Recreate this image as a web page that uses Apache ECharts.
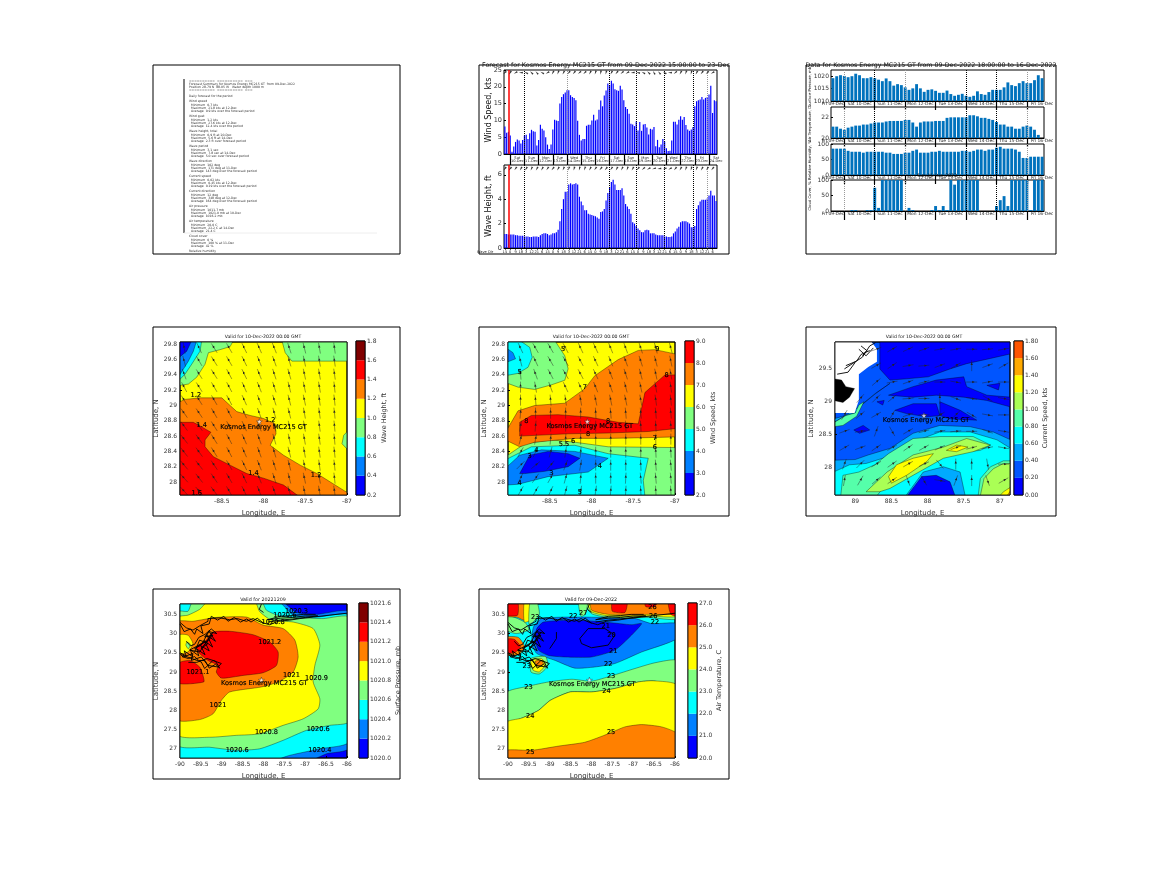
<!DOCTYPE html>
<html>
<head>
<meta charset="utf-8">
<script src="https://cdn.jsdelivr.net/npm/echarts@6/dist/echarts.min.js"></script>
<style>
  html, body { margin: 0; padding: 0; background: #fff; }
  #chart { width: 1167px; height: 875px; }
</style>
</head>
<body>
<div id="chart"></div>
<script>
const FONT = '"DejaVu Sans"';

// ---- time series panels ----
const dayLabels = ['Fri 09-Dec', 'Sat 10-Dec', 'Sun 11-Dec', 'Mon 12-Dec', 'Tue 13-Dec', 'Wed 14-Dec', 'Thu 15-Dec', 'Fri 16-Dec',
  'Sat 17-Dec', 'Sun 18-Dec', 'Mon 19-Dec', 'Tue 20-Dec', 'Wed 21-Dec', 'Thu 22-Dec', 'Fri 23-Dec', 'Sat 24-Dec'];
const hourLabels = ['15', '18', '21', '0', '3', '6', '9', '12'];

const windSpeed = [8.2, 6.3, 6.6, 5.5, 0.7, 2.2, 3.6, 4.3, 4, 3.1, 4.2, 5.5, 5.7, 4.5, 6.2, 7.2, 6.8, 6.6, 2.5, 4.2,
  8.7, 7.5, 7, 5, 2.8, 1.5, 2.8, 7.3, 10.2, 10, 9.8, 15, 17, 17.8, 18.3, 19, 19, 17.5, 17, 16.7,
  16, 9.9, 5.7, 4, 4.5, 4.5, 8.4, 8.7, 8.7, 10, 11.7, 10, 10.3, 13.2, 15.9, 14.2, 17.4, 18.9, 21, 20.5,
  21.8, 21, 19.3, 19, 18.8, 20.3, 19.2, 16, 14, 13.4, 12, 9, 8.8, 8.3, 9.7, 7, 9.5, 6.9, 8.8, 8.9,
  7.9, 5.8, 7.5, 7.3, 8, 2.3, 4.2, 2, 2.8, 4.5, 3.7, 1.7, 0.9, 1, 4, 9.6, 9.6, 8.8, 10.2, 11.2,
  10.2, 11, 8.6, 7.3, 6.9, 7.3, 8, 14.2, 15.7, 16, 16.2, 17, 16.2, 16.7, 17, 17.7, 20.3, 12.2, 16, 15.7];
const waveHeight = [1.15, 1.15, 1.1, 1.1, 1.1, 1.1, 1.05, 1.05, 1, 1, 1, 0.95, 0.95, 0.95, 0.9, 0.9, 0.95, 0.95, 0.95, 0.9,
  1.05, 1.15, 1.2, 1.2, 1.15, 1.05, 1.1, 1.2, 1.2, 1.3, 1.5, 2.2, 3.2, 4, 4.6, 4.6, 5.2, 5.3, 5.2, 5.25,
  5.3, 5.2, 4.2, 3.8, 3.5, 3.1, 3.1, 2.8, 2.75, 2.7, 2.65, 2.6, 2.5, 2.4, 2.95, 3, 3.2, 3.9, 4.5, 5,
  5.4, 5.6, 5.2, 4.75, 4.75, 4.75, 4.9, 4.3, 3.6, 3.4, 3.2, 2.8, 2.1, 2, 1.8, 1.6, 1.45, 1.3, 1.3, 1.45,
  1.5, 1.45, 1.2, 1.2, 1.2, 1.1, 1.05, 1.05, 1.05, 1.05, 0.95, 0.95, 0.9, 0.9, 0.95, 1.2, 1.35, 1.6, 1.75, 2.1,
  2.2, 2.2, 2.2, 2.1, 2, 1.7, 1.7, 1.8, 3.2, 3.5, 3.8, 3.95, 3.95, 3.95, 4.05, 4.3, 4.7, 4.3, 4.3, 3.85];
const windDirMarks = [135, 150, 120, 90, 60, 45, 40, 60, 120, 150, 160, 150, 140, 140, 130, 135, 150, 160, 170, 165,
  150, 140, 130, 120, 100, 80, 60, 45, 30, 40, 60, 90, 130, 150, 160, 165, 150, 140, 130, 120];
const waveDirMarks = [140, 140, 145, 150, 150, 155, 150, 150, 145, 140, 150, 155, 160, 165, 165, 160, 150, 145, 140, 140,
  145, 150, 155, 160, 150, 140, 130, 120, 110, 100, 110, 120, 140, 150, 160, 165, 160, 150, 145, 140];
const windDotted = [11, 59, 74, 90, 106];
const windDottedLight = [35, 114];
const nowIndex = 2;

const surfacePressure = [1019.2, 1020, 1020.4, 1020.1, 1019.6, 1020, 1021, 1020.4, 1019.2, 1019.2, 1019.6, 1019.2, 1018.6, 1018, 1019.1, 1018,
  1016.2, 1016.8, 1016.4, 1015.5, 1014.5, 1015.1, 1016.8, 1015.1, 1013.7, 1014.5, 1014.7, 1014.1, 1013.3, 1013.3, 1014.2, 1012.8,
  1012.1, 1012.5, 1012.9, 1012.1, 1011.7, 1012.1, 1013.9, 1012.8, 1012.5, 1013.6, 1014.5, 1014.5, 1014.5, 1015.5, 1017.5, 1016.4,
  1016, 1017.2, 1018, 1017.2, 1017.2, 1018.4, 1020.4, 1019.2];
const airTemperature = [21.1, 21.1, 20.9, 20.8, 21, 21.1, 21.2, 21.2, 21.3, 21.3, 21.4, 21.5, 21.5, 21.5, 21.6, 21.65,
  21.65, 21.65, 21.65, 21.75, 21.75, 21.5, 21.1, 21.5, 21.6, 21.6, 21.6, 21.65, 21.65, 21.65, 21.95, 22,
  22, 22, 22, 22, 22.2, 22.2, 22.1, 21.95, 21.95, 21.85, 21.75, 21.55, 21.3, 21.3, 21.1, 21.1,
  20.9, 20.9, 21.1, 21.2, 21.1, 20.8, 20.3, 20];
const relativeHumidity = [85, 85, 85, 85, 78, 75, 75, 75, 72, 75, 75, 75, 75, 75, 72, 72,
  68, 68, 68, 72, 72, 78, 82, 72, 72, 72, 75, 75, 78, 75, 75, 75,
  75, 75, 78, 78, 75, 78, 82, 82, 78, 82, 82, 88, 91, 85, 85, 85,
  82, 75, 55, 55, 59, 59, 59, 59];
const cloudCover = [0, 0, 0, 0, 0, 3, 3, 0, 0, 3, 3, 75, 10, 100, 100, 100,
  100, 100, 100, 0, 10, 3, 0, 0, 0, 0, 3, 16, 3, 16, 3, 100,
  85, 100, 100, 100, 100, 100, 100, 0, 0, 0, 0, 16, 35, 48, 16, 100,
  100, 100, 100, 100, 3, 100, 100, 100];
const metDotted = [11, 35, 43];
const metDottedLight = [3, 19, 51];

// ---- text panel ----
const summaryLines = [
  '==========  ==========  ===',
  'Forecast Summary for Kosmos Energy MC215 GT  from 09-Dec-2022',
  'Position 28.79 N  88.05 W   Water depth 1000 m',
  '==========  ==========  ===',
  '', 'Daily forecast for the period', '',
  'Wind speed', '  Minimum  0.7 kts', '  Maximum  21.8 kts at 12-Dec', '  Average  9.9 kts over the forecast period', '',
  'Wind gust', '  Minimum  1.2 kts', '  Maximum  27.6 kts at 12-Dec', '  Average  12.4 kts over the period', '',
  'Wave height, total', '  Minimum  0.9 ft at 20-Dec', '  Maximum  5.6 ft at 14-Dec', '  Average  2.3 ft over forecast period', '',
  'Wave period', '  Minimum  3.1 sec', '  Maximum  7.8 sec at 14-Dec', '  Average  5.0 sec over forecast period', '',
  'Wave direction', '  Minimum  102 deg', '  Maximum  171 deg at 11-Dec', '  Average  143 deg over the forecast period', '',
  'Current speed', '  Minimum  0.02 kts', '  Maximum  0.45 kts at 12-Dec', '  Average  0.19 kts over the forecast period', '',
  'Current direction', '  Minimum  12 deg', '  Maximum  348 deg at 12-Dec', '  Average  164 deg over the forecast period', '',
  'Air pressure', '  Minimum  1011.7 mb', '  Maximum  1021.0 mb at 10-Dec', '  Average  1016.2 mb', '',
  'Air temperature', '  Minimum  20.0 C', '  Maximum  22.2 C at 14-Dec', '  Average  21.4 C', '',
  'Cloud cover', '  Minimum  0 %', '  Maximum  100 % at 11-Dec', '  Average  42 %', '',
  'Relative humidity'
];

// ---- colour bars ----
const jet8 = ['#0000ff', '#0080ff', '#00ffff', '#80ff80', '#ffff00', '#ff8000', '#ff0000', '#800000'];
const jet7 = ['#0000ff', '#0080ff', '#00ffff', '#80ff80', '#ffff00', '#ff8000', '#ff0000'];
const jet9 = ['#0000ff', '#0055ff', '#00aaff', '#00ffff', '#55ffaa', '#aaff55', '#ffff00', '#ffaa00', '#ff5500'];
const waveLevels = [0.2, 0.4, 0.6, 0.8, 1, 1.2, 1.4, 1.6, 1.8];
const windLevels = [2, 3, 4, 5, 6, 7, 8, 9];
const currentLevels = [0, 0.2, 0.4, 0.6, 0.8, 1, 1.2, 1.4, 1.6, 1.8];
const pressureLevels = [1020, 1020.2, 1020.4, 1020.6, 1020.8, 1021, 1021.2, 1021.4, 1021.6];
const temperatureLevels = [20, 21, 22, 23, 24, 25, 26, 27];

// ---- contour regions, [colour, [[lon, lat], ...]] in painting order ----
const site = [-88.05, 28.79];

const wavePatches = [
  ['#80ff80', [[-87.78, 29.85], [-87.74, 29.69], [-87.66, 29.58], [-86.98, 29.58], [-86.98, 29.85]]],
  ['#80ff80', [[-86.98, 28.68], [-87.04, 28.61], [-87.06, 28.5], [-86.98, 28.41]]],
  ['#80ff80', [[-89.02, 29.85], [-88.36, 29.85], [-88.4, 29.77], [-88.52, 29.73], [-88.66, 29.69], [-88.7, 29.54], [-88.8, 29.37], [-88.9, 29.28], [-89.02, 29.26]]],
  ['#00ffff', [[-89.02, 29.85], [-88.74, 29.85], [-88.76, 29.71], [-88.86, 29.54], [-88.94, 29.41], [-89.02, 29.32]]],
  ['#0080ff', [[-89.02, 29.85], [-88.8, 29.85], [-88.84, 29.71], [-88.9, 29.58], [-89.02, 29.37]]],
  ['#0000ff', [[-89.02, 29.85], [-88.86, 29.85], [-88.92, 29.71], [-89.02, 29.62]]],
  ['#ff8000', [[-89.02, 29.04], [-88.94, 29.08], [-88.76, 29.1], [-88.5, 29.1], [-88.4, 29], [-88.32, 28.92], [-88.16, 28.87], [-88, 28.83], [-87.86, 28.76], [-87.85, 28.63], [-87.92, 28.48], [-87.76, 28.35], [-87.56, 28.22], [-87.36, 28.11], [-87.2, 28], [-86.98, 27.85], [-86.98, 27.8], [-89.02, 27.8]]],
  ['#ff0000', [[-89.02, 28.78], [-88.84, 28.78], [-88.74, 28.72], [-88.63, 28.65], [-88.7, 28.55], [-88.7, 28.46], [-88.6, 28.33], [-88.4, 28.22], [-88.2, 28.11], [-88, 28.05], [-87.76, 27.96], [-87.56, 27.8], [-89.02, 27.8]]]
];
const waveLabels = [[-88.81, 29.14, '1.2'], [-88.74, 28.74, '1.4'], [-87.92, 28.81, '1.2'], [-88.12, 28.11, '1.4'], [-87.37, 28.09, '1.2'], [-88.8, 27.85, '1.6'], [-88, 28.72, 'Kosmos Energy MC215 GT']];
const waveArrowLons = [-88.95, -88.77, -88.59, -88.41, -88.23, -88.05, -87.87, -87.69, -87.51, -87.33, -87.15];
const waveArrowLats = [29.75, 29.58, 29.41, 29.24, 29.07, 28.9, 28.73, 28.56, 28.39, 28.22, 28.05, 27.88];
const waveArrowAngles = [
  [-10, -25, -32, -30, -26, -24, -22, -18, -14, -10, -8],
  [-15, -30, -32, -30, -26, -22, -20, -16, -12, -10, -8],
  [-20, -32, -32, -28, -26, -22, -18, -16, -12, -10, -8],
  [-28, -32, -30, -28, -24, -22, -18, -14, -12, -10, -6],
  [-32, -32, -30, -28, -24, -20, -18, -14, -12, -8, -6],
  [-35, -34, -30, -28, -24, -20, -16, -14, -10, -8, -6],
  [-36, -34, -32, -28, -24, -20, -16, -12, -10, -8, -5],
  [-38, -36, -32, -28, -24, -20, -16, -12, -10, -8, -5],
  [-38, -36, -32, -28, -24, -20, -16, -14, -10, -8, -6],
  [-40, -38, -34, -30, -26, -22, -18, -14, -12, -8, -6],
  [-42, -38, -34, -30, -26, -22, -18, -14, -12, -10, -6],
  [-42, -40, -36, -30, -26, -22, -20, -16, -12, -10, -8]
];

const windPatches = [
  ['#80ff80', [[-89.03, 29.85], [-88.44, 29.85], [-88.32, 29.65], [-88.28, 29.48], [-88.32, 29.33], [-88.48, 29.27], [-88.68, 29.21], [-88.88, 29.24], [-89.03, 29.3]]],
  ['#00ffff', [[-89.03, 29.85], [-88.86, 29.85], [-88.74, 29.76], [-88.71, 29.63], [-88.76, 29.5], [-88.88, 29.42], [-89.03, 29.39]]],
  ['#0080ff', [[-89.03, 29.76], [-88.94, 29.69], [-88.91, 29.61], [-89.03, 29.56]]],
  ['#80ff80', [[-89.03, 28.33], [-88.8, 28.5], [-88.48, 28.55], [-88.2, 28.52], [-87.8, 28.46], [-86.98, 28.45], [-86.98, 27.81], [-89.03, 27.81]]],
  ['#00ffff', [[-89.03, 28.29], [-88.72, 28.46], [-88.2, 28.48], [-87.8, 28.37], [-87.32, 28.31], [-87.38, 28.02], [-87.36, 27.81], [-89.03, 27.81]]],
  ['#0080ff', [[-89.03, 28.18], [-88.86, 28.35], [-88.6, 28.42], [-88.2, 28.4], [-87.8, 28.31], [-88.04, 28.13], [-88.52, 28.07], [-88.88, 27.97], [-89.03, 27.96]]],
  ['#0000ff', [[-88.86, 28.11], [-88.74, 28.35], [-88.52, 28.4], [-88.28, 28.37], [-88.14, 28.31], [-88.28, 28.2], [-88.56, 28.14], [-88.8, 28.11]]],
  ['#ff8000', [[-89.03, 28.65], [-88.88, 28.93], [-88.68, 29], [-88.32, 29.03], [-88.08, 29.22], [-87.96, 29.39], [-87.68, 29.6], [-87.44, 29.72], [-87.24, 29.73], [-86.98, 29.67], [-86.98, 28.59], [-87.32, 28.58], [-87.8, 28.57], [-88.2, 28.57], [-88.68, 28.52], [-88.86, 28.46], [-89.03, 28.55]]],
  ['#ff0000', [[-88.86, 28.6], [-88.86, 28.78], [-88.72, 28.87], [-88.4, 28.88], [-88.04, 28.85], [-87.68, 28.78], [-87.44, 28.76], [-87.36, 29.17], [-87.12, 29.4], [-86.98, 29.4], [-86.98, 28.7], [-87.32, 28.66], [-87.8, 28.64], [-88.28, 28.63]]]
];
const windLabels = [[-87.21, 29.74, '9'], [-88.34, 29.73, '5'], [-87.1, 29.39, '8'], [-88.08, 29.24, '7'], [-87.8, 28.8, '8'], [-88.78, 28.8, '8'], [-88.04, 28.63, '8'], [-88.33, 28.49, '5.5'], [-88.22, 28.53, '6'], [-87.24, 28.57, '7'], [-87.24, 28.46, '6'], [-88.66, 28.42, '4'], [-88.74, 28.34, '3'], [-88.48, 28.11, '3'], [-87.9, 28.21, '4'], [-88.86, 27.98, '4'], [-88.14, 27.86, '5'], [-88.86, 29.43, '5'], [-88.02, 28.73, 'Kosmos Energy MC215 GT']];
const windArrowLons = [-88.85, -88.67, -88.49, -88.31, -88.13, -87.95, -87.77, -87.59, -87.41, -87.23, -87.05];
const windArrowLats = waveArrowLats;
const windArrowAngles = [
  [-25, -30, -30, -28, -25, -25, -22, -20, -18, -15, -15],
  [-15, -25, -30, -30, -28, -25, -22, -20, -18, -15, -12],
  [-5, -20, -28, -30, -28, -25, -22, -18, -15, -12, -10],
  [0, -10, -20, -25, -25, -22, -20, -15, -12, -10, -8],
  [0, -5, -5, -8, -10, -12, -12, -12, -10, -8, -6],
  [5, 0, 0, 0, 0, -3, -5, -5, -5, -5, -5],
  [10, 5, 0, 0, 0, 0, 0, -3, -3, -3, -3],
  [15, 10, 5, 3, 0, 0, 0, 0, 0, 0, 0],
  [30, 25, 15, 8, 5, 0, 0, 0, 0, -3, -3],
  [45, 50, 40, 20, 10, 0, 0, 0, -3, -5, -5],
  [25, 35, 30, 15, 5, 0, 0, 3, -5, -5, -5],
  [30, 30, 25, 15, 10, 8, 5, 3, -3, -3, -3]
];

const currentPatches = [
  ['#0000ff', [[-88.66, 29.92], [-86.85, 29.92], [-86.85, 29.73], [-87.13, 29.66], [-87.46, 29.58], [-87.69, 29.5], [-87.99, 29.38], [-88.29, 29.35], [-88.52, 29.33], [-88.66, 29.5]]],
  ['#0000ff', [[-88.54, 29.1], [-88.2, 29.23], [-87.88, 29.33], [-87.5, 29.38], [-87.46, 29.23], [-87.18, 29.1], [-86.85, 29.07], [-86.85, 28.92], [-87.18, 29.02], [-87.5, 29.07], [-87.88, 29.1], [-88.2, 29.07]]],
  ['#0000ff', [[-88.45, 28.87], [-88.2, 28.97], [-87.88, 28.97], [-87.83, 28.79], [-88.01, 28.77], [-88.29, 28.82]]],
  ['#0000ff', [[-87.83, 29], [-87.55, 28.87], [-87.32, 28.72], [-87.69, 28.74], [-87.83, 28.79]]],
  ['#0000ff', [[-89.02, 28.57], [-88.89, 28.64], [-88.8, 28.57], [-88.94, 28.52]]],
  ['#0000ff', [[-87.18, 29.25], [-87, 29.28], [-87.02, 29.18]]],
  ['#0000ff', [[-88.7, 29], [-88.6, 29.02], [-88.62, 28.95]]],
  ['#00aaff', [[-89, 28.83], [-88.89, 28.97], [-88.7, 29.14], [-88.52, 29.28], [-88.73, 29.12], [-88.95, 28.92], [-89.3, 28.68], [-89.3, 28.74]]],
  ['#00aaff', [[-89.3, 28.11], [-89, 28.12], [-88.82, 28.19], [-88.52, 28.29], [-88.2, 28.52], [-87.83, 28.64], [-87.41, 28.62], [-87.09, 28.54], [-86.85, 28.42], [-86.85, 27.57], [-89.3, 27.57]]],
  ['#00ffff', [[-89.3, 27.93], [-89.08, 28.04], [-88.85, 28.06], [-88.56, 28.16], [-88.2, 28.39], [-87.83, 28.54], [-87.41, 28.54], [-87.04, 28.42], [-86.85, 28.29], [-86.85, 27.57], [-89.3, 27.57]]],
  ['#55ffaa', [[-89.2, 27.57], [-89.17, 27.88], [-88.95, 27.93], [-88.73, 28.04], [-88.54, 28.21], [-88.2, 28.44], [-87.83, 28.47], [-87.37, 28.47], [-87.13, 28.34], [-87.27, 28.26], [-87.69, 28.21], [-88.01, 28.09], [-88.38, 27.88], [-88.62, 27.68], [-88.7, 27.57]]],
  ['#aaff55', [[-88.85, 27.63], [-88.56, 27.93], [-88.2, 28.19], [-87.78, 28.31], [-87.46, 28.44], [-87.13, 28.34], [-87.37, 28.24], [-87.78, 28.14], [-88.2, 27.88], [-88.52, 27.68], [-88.66, 27.63]]],
  ['#ffff00', [[-88.54, 27.86], [-88.43, 28.04], [-88.2, 28.14], [-87.92, 28.21], [-88.01, 28.09], [-88.29, 27.88], [-88.5, 27.76]]],
  ['#ffff00', [[-87.74, 28.26], [-87.6, 28.34], [-87.44, 28.31], [-87.6, 28.24]]],
  ['#00aaff', [[-88.3, 27.57], [-88.06, 27.93], [-87.78, 28.01], [-87.55, 27.93], [-87.48, 27.57]]],
  ['#0000ff', [[-88.28, 27.57], [-88.08, 27.86], [-87.88, 27.88], [-87.69, 27.78], [-87.62, 27.57]]],
  ['#55ffaa', [[-87.3, 27.57], [-87.27, 27.83], [-87.13, 28.01], [-86.95, 28.1], [-86.85, 28.1], [-86.85, 27.57]]],
  ['#aaff55', [[-87.27, 27.57], [-87.22, 27.83], [-87.09, 27.98], [-86.95, 28.06], [-86.85, 28.06], [-86.85, 27.57]]],
  ['#ffff00', [[-87, 27.57], [-86.95, 27.63], [-86.85, 27.7], [-86.85, 27.57]]],
  ['#ffaa00', [[-86.9, 27.57], [-86.85, 27.65], [-86.85, 27.57]]],
  ['#55ffaa', [[-89.3, 28.68], [-89.13, 28.79], [-89, 28.83], [-88.95, 28.95], [-88.88, 29], [-88.98, 28.78], [-89.17, 28.64], [-89.3, 28.62]]],
  ['#ffffff', [[-89.3, 29.92], [-88.78, 29.92], [-88.7, 29.8], [-88.7, 29.61], [-88.82, 29.53], [-88.95, 29.42], [-88.95, 29.02], [-89.01, 28.83], [-89.3, 28.83]]],
  ['#000000', [[-89.3, 29.35], [-89.19, 29.33], [-89.13, 29.23], [-89.01, 29.2], [-89.08, 29.07], [-89.17, 28.99], [-89.3, 29.02]]]
];
const currentLabels = [[-88.02, 28.72, 'Kosmos Energy MC215 GT']];
const currentArrowLons = [-89.15, -88.93, -88.71, -88.49, -88.27, -88.05, -87.83, -87.61, -87.39, -87.17, -86.95];
const currentArrowLats = [29.8, 29.55, 29.3, 29.05, 28.8, 28.55, 28.3, 28.05, 27.8];
const currentArrowAngles = [
  [null, null, 70, 60, 65, 70, 80, 80, 90, 85, 80],
  [null, null, 60, 55, 80, 85, 70, 60, 0, 70, 60],
  [null, null, 50, 80, 70, 75, 90, 100, 90, 80, 90],
  [null, 40, 45, 50, 85, 90, 0, 110, 100, 120, 100],
  [30, 50, 60, 30, 70, 90, 60, 45, 120, 100, 90],
  [70, 80, 20, 150, 60, 75, 80, 85, 90, 110, 100],
  [60, 70, 55, 60, 55, 60, 65, 70, 75, 80, 100],
  [20, 45, 60, 55, 60, 65, 140, 0, 0, 170, 90],
  [10, 30, 50, 55, 160, 150, 100, 20, 0, 160, 60]
];

const pressurePatches = [
  ['#0080ff', [[-90.05, 30.83], [-87.57, 30.83], [-87.21, 30.55], [-86.73, 30.5], [-85.95, 30.55], [-85.95, 27.02], [-86.49, 26.87], [-86.89, 26.7], [-90.05, 26.7]]],
  ['#00ffff', [[-90.05, 30.83], [-87.65, 30.83], [-87.29, 30.48], [-86.73, 30.43], [-85.95, 30.46], [-85.95, 27.19], [-86.65, 27], [-87.37, 26.83], [-87.77, 26.7], [-90.05, 26.7]]],
  ['#80ff80', [[-90.05, 30.57], [-89.81, 30.58], [-89.69, 30.83], [-88.05, 30.83], [-87.93, 30.61], [-87.61, 30.46], [-87.05, 30.41], [-86.57, 30.39], [-85.95, 30.42], [-85.95, 27.71], [-86.41, 27.61], [-86.97, 27.48], [-87.53, 27.22], [-88.09, 27], [-88.65, 26.96], [-89.29, 27.04], [-90.05, 27.1]]],
  ['#ffff00', [[-90.05, 30.42], [-89.81, 30.48], [-89.53, 30.63], [-89.33, 30.83], [-88.21, 30.83], [-88.09, 30.57], [-87.81, 30.35], [-87.29, 30.3], [-86.81, 30.13], [-86.65, 29.7], [-86.77, 29.17], [-86.81, 28.74], [-86.65, 28.3], [-86.69, 28.04], [-87.05, 27.78], [-87.53, 27.61], [-88.09, 27.39], [-88.65, 27.35], [-89.29, 27.3], [-90.05, 27.37]]],
  ['#ff8000', [[-90.05, 30.3], [-89.69, 30.32], [-89.13, 30.42], [-88.41, 30.43], [-88.01, 30.22], [-87.53, 30.13], [-87.25, 29.83], [-87.17, 29.39], [-87.29, 29], [-87.65, 28.74], [-88.05, 28.61], [-88.81, 28.48], [-89.01, 28.26], [-89.21, 27.91], [-89.53, 27.76], [-90.05, 27.76]]],
  ['#ffff00', [[-90.05, 29.96], [-89.81, 29.96], [-89.69, 29.74], [-89.81, 29.52], [-90.05, 29.48]]],
  ['#80ff80', [[-89.83, 29.78], [-89.75, 29.72], [-89.8, 29.6], [-89.86, 29.7]]],
  ['#ff0000', [[-89.37, 29.83], [-89.21, 30.04], [-88.81, 30.06], [-88.25, 29.97], [-87.85, 29.78], [-87.65, 29.52], [-87.69, 29.17], [-88.01, 28.98], [-88.49, 28.91], [-89.01, 28.84], [-89.13, 29], [-89.09, 29.17], [-89.33, 29.3], [-89.53, 29.48], [-89.61, 29.65]]],
  ['#ff0000', [[-90.05, 29.22], [-89.77, 29.3], [-89.53, 29.13], [-89.45, 28.91], [-89.43, 28.74], [-90.05, 28.71]]]
];
const pressureLabels = [[-89.09, 28.13, '1021'], [-87.85, 29.78, '1021.2'], [-87.33, 28.91, '1021'], [-86.73, 28.83, '1020.9'], [-87.93, 27.43, '1020.8'], [-88.63, 26.96, '1020.6'], [-86.69, 27.5, '1020.6'], [-86.65, 26.97, '1020.4'], [-89.57, 29, '1021.1'], [-87.21, 30.58, '1020.3'], [-87.77, 30.29, '1020.8'], [-87.49, 30.48, '1020.6'], [-87.98, 28.7, 'Kosmos Energy MC215 GT']];

const temperaturePatches = [
  ['#80ff80', [[-90.05, 28.46], [-89.51, 28.63], [-89.03, 28.74], [-88.47, 28.81], [-88, 28.76], [-87.52, 28.9], [-86.96, 29.09], [-86.48, 29.24], [-85.95, 29.3], [-85.95, 28.65], [-86.52, 28.77], [-86.88, 28.74], [-87.44, 28.57], [-88, 28.48], [-88.51, 28.48], [-88.99, 28.26], [-89.27, 28], [-89.67, 27.8], [-90.05, 27.68]]],
  ['#ffff00', [[-90.05, 27.68], [-89.67, 27.8], [-89.27, 28], [-88.99, 28.26], [-88.51, 28.48], [-88, 28.48], [-87.44, 28.57], [-86.88, 28.74], [-86.52, 28.77], [-85.95, 28.65], [-85.95, 26.7], [-90.05, 26.7]]],
  ['#ff8000', [[-90.05, 26.96], [-89.43, 26.96], [-88.79, 27.07], [-88.16, 27.17], [-87.6, 27.39], [-87.2, 27.57], [-86.8, 27.63], [-86.32, 27.57], [-85.95, 27.39], [-85.95, 26.7], [-90.05, 26.7]]],
  ['#0080ff', [[-89.31, 29.48], [-88.87, 29.3], [-88.4, 29.1], [-87.92, 29.13], [-87.44, 29.22], [-86.8, 29.52], [-85.95, 29.87], [-85.95, 30.26], [-86.56, 30.26], [-86.96, 30.39], [-88.4, 30.43], [-89.19, 30.39], [-89.39, 30.17], [-89.43, 29.74]]],
  ['#0000ff', [[-89.31, 30.13], [-89.15, 30.3], [-88.4, 30.35], [-87.6, 30.29], [-87.04, 30.23], [-86.8, 30.26], [-87.04, 29.96], [-87.44, 29.57], [-88, 29.39], [-88.63, 29.39], [-89.03, 29.43], [-89.27, 29.57], [-89.35, 29.87]]],
  ['#80ff80', [[-88.16, 30.83], [-85.95, 30.83], [-85.95, 30.38], [-86.64, 30.42], [-87.2, 30.4], [-87.6, 30.42], [-88, 30.52]]],
  ['#ffff00', [[-88.08, 30.83], [-85.95, 30.83], [-85.95, 30.45], [-86.64, 30.46], [-87.12, 30.44], [-87.6, 30.46], [-88, 30.57]]],
  ['#ff8000', [[-88, 30.83], [-85.95, 30.83], [-85.95, 30.52], [-86.64, 30.5], [-87.12, 30.48], [-87.6, 30.5], [-88, 30.61]]],
  ['#ff0000', [[-87.5, 30.83], [-87.15, 30.83], [-87.2, 30.55], [-87.5, 30.58]]],
  ['#ff0000', [[-86.72, 30.83], [-86.4, 30.83], [-86.5, 30.7], [-86.7, 30.7]]],
  ['#ff0000', [[-86.16, 30.83], [-85.95, 30.83], [-85.95, 30.46], [-86.1, 30.5]]],
  ['#80ff80', [[-88.31, 30.83], [-88.1, 30.83], [-88.15, 30.5], [-88.25, 30.45]]],
  ['#80ff80', [[-90.05, 30.48], [-89.6, 30.3], [-89.5, 30.1], [-89.8, 30], [-90.05, 30.1]]],
  ['#ff8000', [[-90.05, 30.83], [-89.61, 30.83], [-89.61, 30.35], [-89.77, 30.42], [-90.05, 30.46]]],
  ['#ffff00', [[-89.61, 30.83], [-89.47, 30.83], [-89.47, 30.35], [-89.61, 30.3]]],
  ['#80ff80', [[-89.47, 30.83], [-89.31, 30.83], [-89.25, 30.5], [-89.4, 30.3], [-89.5, 30.25]]],
  ['#ff0000', [[-90.05, 30.83], [-89.77, 30.83], [-89.77, 30.48], [-90, 30.46], [-90.05, 30.48]]],
  ['#ff8000', [[-90.05, 29.9], [-89.75, 29.9], [-89.6, 29.65], [-89.75, 29.45], [-90.05, 29.45]]],
  ['#ff0000', [[-90.05, 29.85], [-89.85, 29.85], [-89.7, 29.65], [-89.85, 29.5], [-90.05, 29.5]]],
  ['#80ff80', [[-89.45, 29.35], [-89.1, 29.4], [-89.05, 29.15], [-89.25, 28.95], [-89.45, 29]]],
  ['#ffff00', [[-89.45, 29.3], [-89.2, 29.35], [-89.1, 29.2], [-89.25, 29], [-89.4, 29.05]]],
  ['#ff8000', [[-89.35, 29.28], [-89.2, 29.3], [-89.15, 29.2], [-89.3, 29.15]]]
];
const temperatureLabels = [[-87.48, 29.54, '21'], [-87.6, 29.2, '22'], [-87.53, 28.89, '23'], [-89.51, 28.61, '23'], [-87.64, 28.5, '24'], [-89.47, 27.84, '24'], [-87.53, 27.42, '25'], [-89.47, 26.91, '25'], [-86.54, 30.68, '26'], [-86.52, 30.46, '26'], [-86.48, 30.29, '22'], [-88.44, 30.45, '22'], [-87.66, 30.2, '21'], [-87.52, 29.96, '20'], [-89.35, 30.42, '23'], [-89.55, 29.15, '23'], [-88.2, 30.52, '27'], [-87.98, 28.69, 'Kosmos Energy MC215 GT']];
const temperatureLines = [
  [[-88.28, 29.87], [-88.08, 30.13], [-87.68, 30.13], [-87.44, 29.96], [-87.6, 29.7], [-88, 29.63], [-88.24, 29.74], [-88.28, 29.87]],
  [[-89, 29.61], [-88.84, 29.87], [-88.84, 30.04]]
];

// Louisiana shore drawn over the two wide maps
const coastNorth = [[-90, 30.29], [-89.85, 30.15], [-89.69, 30.09], [-89.53, 30.2], [-89.33, 30.32], [-89.33, 30.39], [-89.05, 30.41], [-88.81, 30.36], [-88.63, 30.39], [-88.41, 30.32], [-88.25, 30.39], [-88.05, 30.29], [-87.85, 30.23], [-87.65, 30.32], [-87.37, 30.35], [-87.13, 30.39], [-86.81, 30.43], [-86.41, 30.48], [-86, 30.53]];
const coastDelta = [[-89.65, 29.52], [-89.53, 29.83], [-89.33, 29.74], [-89.49, 29.61], [-89.21, 29.96], [-89.41, 29.91], [-89.29, 30.09], [-89.49, 29.7], [-89.65, 29.61], [-89.33, 29.83], [-89.21, 30.04], [-89.53, 29.52], [-89.77, 29.57], [-89.41, 29.78]];
const coastSouth = [[-90, 29.48], [-89.93, 29.39], [-89.69, 29.48], [-89.73, 29.3], [-89.49, 29.39], [-89.33, 29.17], [-89.09, 29.13], [-89.01, 29.22], [-89.21, 29.3], [-89.41, 29.09], [-89.49, 29.26], [-89.97, 29.45]];
const coastIsland = [[-88.05, 30.77], [-88.1, 30.63], [-88, 30.55]];
const coastMarshA = [[-90, 29.5], [-89.85, 29.42], [-89.9, 29.55], [-89.7, 29.4], [-89.75, 29.58], [-89.55, 29.42], [-89.6, 29.6], [-89.4, 29.45], [-89.5, 29.68], [-89.3, 29.55], [-89.42, 29.82], [-89.22, 29.65], [-89.35, 29.95], [-89.15, 29.8], [-89.3, 30.05], [-89.12, 30], [-89.25, 30.12], [-89.4, 29.98], [-89.55, 29.9], [-89.65, 29.72], [-89.75, 29.68], [-89.85, 29.8]];
const coastMarshB = [[-90, 30.25], [-89.9, 30.05], [-89.75, 30.12], [-89.65, 29.98], [-89.6, 30.12], [-89.45, 30], [-89.5, 30.2], [-89.3, 30.25], [-89.25, 30.45], [-89.1, 30.35], [-88.95, 30.45], [-88.85, 30.32], [-88.7, 30.42], [-88.55, 30.3], [-88.4, 30.38], [-88.3, 30.3], [-88.15, 30.4], [-88, 30.27]];
const coastRidge = [[-87.9, 30.3], [-87.6, 30.35], [-87.3, 30.38], [-87, 30.42], [-86.7, 30.46], [-87, 30.46], [-87.3, 30.42], [-87.6, 30.4], [-87.9, 30.36], [-87.6, 30.45], [-87.3, 30.47], [-87.05, 30.5], [-86.75, 30.5]];
const coastSouthB = [[-89.95, 29.4], [-89.8, 29.35], [-89.65, 29.4], [-89.55, 29.3], [-89.4, 29.3], [-89.3, 29.1], [-89.15, 29.2], [-89.05, 29.1], [-89.15, 29.28], [-89.35, 29.35], [-89.6, 29.25], [-89.8, 29.25]];
const coastLines = [coastNorth, coastDelta, coastSouth, coastIsland, coastMarshA, coastMarshB, coastRidge, coastSouthB];
const currentCoast = [
  [[-89.13, 29.55], [-88.98, 29.62], [-88.92, 29.72], [-88.8, 29.78]],
  [[-88.92, 29.85], [-88.84, 29.78], [-88.9, 29.7]],
  [[-89.15, 29.5], [-88.9, 29.68], [-88.8, 29.85], [-88.72, 29.9]],
  [[-89.25, 29.42], [-89.1, 29.45], [-89, 29.6]],
  [[-88.95, 29.8], [-88.85, 29.7], [-88.75, 29.82]]
];

const wideLonTicks = [-90, -89.5, -89, -88.5, -88, -87.5, -87, -86.5, -86];
const wideLatTicks = [27, 27.5, 28, 28.5, 29, 29.5, 30, 30.5];
const fineLonTicks = [-88.5, -88, -87.5, -87];
const fineLatTicks = [28, 28.2, 28.4, 28.6, 28.8, 29, 29.2, 29.4, 29.6, 29.8];

// ---- assembly ----
const grids = [], xAxes = [], yAxes = [], series = [], mapBorders = [];
const inkText = { color: '#333', fontFamily: FONT };

function addGrid(rect, xAxis, yAxis, extra) {
  const gridIndex = grids.length;
  grids.push(Object.assign({ left: rect[0], top: rect[1], width: rect[2], height: rect[3], show: true, borderColor: '#000', borderWidth: 1, backgroundColor: 'transparent' }, extra));
  xAxes.push(Object.assign({ gridIndex, splitLine: { show: false } }, xAxis));
  yAxes.push(Object.assign({ gridIndex, splitLine: { show: false } }, yAxis));
  return gridIndex;
}

function dashMarks(dark, light, nowAt) {
  const data = [];
  dark.forEach(i => data.push({ xAxis: i, lineStyle: { color: '#000', type: 'dotted', width: 1 } }));
  light.forEach(i => data.push({ xAxis: i, lineStyle: { color: '#999', type: 'dotted', width: 1 } }));
  if (nowAt !== undefined) data.push({ xAxis: nowAt, lineStyle: { color: '#ff0000', type: 'solid', width: 1.5 } });
  return { silent: true, symbol: 'none', label: { show: false }, data };
}

function dateAxis(count, opts) {
  return {
    type: 'category',
    data: Array.from({ length: count }, (_, i) => i),
    axisLine: { lineStyle: { color: '#000' } },
    axisTick: { show: true, alignWithLabel: true, length: opts.tick, interval: i => i % 8 === 3, lineStyle: { color: '#000', width: 1.2 } },
    axisLabel: {
      show: true, interval: i => i === 0 || i % 8 === 7,
      formatter: (v, i) => { const d = dayLabels[Math.floor((i + 5) / 8)]; return opts.twoLine ? d.replace(' ', '\n') : d; },
      fontSize: opts.font, margin: opts.margin, lineHeight: opts.font, color: '#222', fontFamily: FONT
    }
  };
}

function valueAxis(min, max, interval, fontSize) {
  return {
    type: 'value', min, max, interval,
    axisLine: { show: false },
    axisTick: { show: true, inside: true, length: 2, lineStyle: { color: '#000' } },
    axisLabel: { fontSize, margin: 2, showMaxLabel: max % interval === 0, formatter: v => String(v), ...inkText }
  };
}

function addBarPanel(rect, values, color, yAxis, xAxis, marks, barPart) {
  const g = addGrid(rect, xAxis, yAxis);
  series.push({ type: 'bar', xAxisIndex: g, yAxisIndex: g, data: values, itemStyle: { color }, barWidth: barPart, markLine: marks, silent: true });
  return g;
}

// wind and wave bars
const gWind = addBarPanel([504, 70, 213, 84], windSpeed, '#0000ff', valueAxis(0, 25, 5, 6.5),
  dateAxis(windSpeed.length, { tick: 11, font: 3.6, margin: 2, twoLine: true }), dashMarks(windDotted, windDottedLight, nowIndex), '66%');
const waveXAxis = dateAxis(waveHeight.length, { tick: 2, font: 3.6, margin: 2 });
waveXAxis.axisLabel.interval = 2;
waveXAxis.axisLabel.formatter = (v, i) => hourLabels[i % 8];
waveXAxis.axisTick.interval = 2;
waveXAxis.axisTick.lineStyle.width = 0.6;
const gWave = addBarPanel([504, 165, 213, 83], waveHeight, '#0000ff', valueAxis(0, 6.8, 2, 6.5),
  waveXAxis, dashMarks(windDotted, windDottedLight, nowIndex), '66%');

function addDirMarks(g, dirs, yValue) {
  series.push({
    type: 'scatter', xAxisIndex: g, yAxisIndex: g, silent: true, symbol: 'triangle', symbolSize: [1.8, 4], z: 5,
    data: dirs.map((a, i) => ({ value: [i * 3, yValue], symbolRotate: a })), itemStyle: { color: '#000' }
  });
}
addDirMarks(gWind, windDirMarks, 24.2);
addDirMarks(gWave, waveDirMarks, 6.5);

// met bars
const metRows = [
  [[831, 70, 213, 31], surfacePressure, valueAxis(1010, 1022.5, 5, 6)],
  [[831, 107, 213, 31], airTemperature, valueAxis(20, 23, 2, 6)],
  [[831, 144, 213, 31], relativeHumidity, valueAxis(0, 100, 50, 6)],
  [[831, 180, 213, 31], cloudCover, valueAxis(0, 100, 50, 6)]
];
metRows.forEach(r => addBarPanel(r[0], r[1], '#0072bd', r[2],
  dateAxis(r[1].length, { tick: 9, font: 4.4, margin: 1 }), dashMarks(metDotted, metDottedLight), '76%'));

// contour maps
function addArrows(g, lons, lats, angles, length) {
  const data = [];
  angles.forEach((row, r) => row.forEach((a, c) => { if (a !== null) data.push([lons[c], lats[r], a]); }));
  series.push({
    type: 'custom', coordinateSystem: 'cartesian2d', xAxisIndex: g, yAxisIndex: g, silent: true, clip: true, z: 4, data,
    renderItem(params, api) {
      const p = api.coord([api.value(0), api.value(1)]);
      const rad = api.value(2) * Math.PI / 180;
      const dx = Math.sin(rad) * length / 2, dy = -Math.cos(rad) * length / 2;
      const hx = p[0] + dx * 0.1, hy = p[1] + dy * 0.1;
      const side = [-dy / length * 1.2, dx / length * 1.2];
      return {
        type: 'group',
        children: [
          { type: 'line', shape: { x1: p[0] - dx, y1: p[1] - dy, x2: p[0] + dx, y2: p[1] + dy }, style: { stroke: '#222', lineWidth: 0.45 } },
          { type: 'polygon', shape: { points: [[hx + dx * 0.45, hy + dy * 0.45], [hx + side[0] * 2, hy + side[1] * 2], [hx - side[0] * 2, hy - side[1] * 2]] }, style: { fill: '#222' } }
        ]
      };
    }
  });
}

function addMap(m) {
  const ticks = (values, formatter) => ({
    axisLine: { show: false },
    axisTick: { show: true, inside: true, length: 2, customValues: values, lineStyle: { color: '#000' } },
    axisLabel: { customValues: values, fontSize: 6, margin: 3, formatter, ...inkText }
  });
  const g = addGrid(m.rect,
    { type: 'value', min: m.lon[0], max: m.lon[1], name: 'Longitude, E', nameLocation: 'middle', nameGap: 15, nameTextStyle: { fontSize: 7, ...inkText }, ...ticks(m.lonTicks, m.lonFormat || (v => String(v))) },
    { type: 'value', min: m.lat[0], max: m.lat[1], name: 'Latitude, N', nameLocation: 'middle', nameGap: 19, nameTextStyle: { fontSize: 7, ...inkText }, ...ticks(m.latTicks, v => String(v)) },
    { backgroundColor: m.base });
  mapBorders.push(m.rect, m.barRect);

  series.push({
    type: 'custom', coordinateSystem: 'cartesian2d', xAxisIndex: g, yAxisIndex: g, silent: true, clip: true, z: 2,
    data: m.patches.map(p => p[1][0]),
    renderItem(params, api) {
      const patch = m.patches[params.dataIndex];
      return {
        type: 'polygon',
        shape: { points: patch[1].map(pt => api.coord(pt)), smooth: m.smooth || 0 },
        style: { fill: patch[0], stroke: patch[0] === '#ffffff' ? 'none' : 'rgba(0,0,0,0.8)', lineWidth: 0.45 }
      };
    }
  });
  (m.lines || []).forEach(pts => series.push({
    type: 'line', xAxisIndex: g, yAxisIndex: g, silent: true, showSymbol: false, symbol: 'none', z: 3, data: pts,
    lineStyle: { color: '#000', width: m.lineWidth || 0.9 }
  }));
  if (m.arrows) addArrows(g, m.arrows[0], m.arrows[1], m.arrows[2], m.arrowLength);
  series.push({
    type: 'scatter', xAxisIndex: g, yAxisIndex: g, silent: true, z: 6, data: [site], symbolSize: 6,
    symbol: 'path://M50 0 L61 35 L98 35 L68 57 L79 91 L50 70 L21 91 L32 57 L2 35 L39 35 Z',
    itemStyle: { color: '#fff', borderColor: '#000', borderWidth: 0.4 }
  });
  series.push({
    type: 'custom', coordinateSystem: 'cartesian2d', xAxisIndex: g, yAxisIndex: g, silent: true, z: 7,
    data: m.labels.map(l => [l[0], l[1]]),
    renderItem(params, api) {
      const p = api.coord([api.value(0), api.value(1)]);
      return { type: 'text', style: { x: p[0], y: p[1], text: m.labels[params.dataIndex][2], align: 'center', verticalAlign: 'middle', font: '6.6px ' + FONT, fill: '#000', stroke: '#000', lineWidth: 0.15 } };
    }
  });

  // colour bar
  const c = addGrid(m.barRect,
    { type: 'value', min: 0, max: 1, show: false },
    { type: 'value', min: m.levels[0], max: m.levels[m.levels.length - 1], position: 'right', interval: m.levels[1] - m.levels[0],
      name: m.barName, nameLocation: 'middle', nameGap: 11, nameRotate: 90, nameTextStyle: { fontSize: 6.5, ...inkText },
      axisLine: { show: false }, axisTick: { show: false },
      axisLabel: { fontSize: 6, margin: 2, formatter: v => v.toFixed(m.barDigits), ...inkText } });
  series.push({
    type: 'custom', coordinateSystem: 'cartesian2d', xAxisIndex: c, yAxisIndex: c, silent: true, clip: true,
    data: m.colors.map((col, i) => [0, m.levels[i]]),
    renderItem(params, api) {
      const i = params.dataIndex;
      const a = api.coord([0, m.levels[i]]), b = api.coord([1, m.levels[i + 1]]);
      return { type: 'rect', shape: { x: a[0], y: b[1], width: b[0] - a[0], height: a[1] - b[1] }, style: { fill: m.colors[i] } };
    }
  });
}

addMap({
  rect: [180, 342, 167, 153], lon: [-89, -87], lat: [27.83, 29.83], lonTicks: fineLonTicks, latTicks: fineLatTicks, base: '#ffff00',
  patches: wavePatches, labels: waveLabels, arrows: [waveArrowLons, waveArrowLats, waveArrowAngles], arrowLength: 11,
  barRect: [356, 341, 9, 154], levels: waveLevels, colors: jet8, barName: 'Wave Height, ft', barDigits: 1
});
addMap({
  rect: [508, 342, 167, 153], lon: [-89, -87], lat: [27.83, 29.83], lonTicks: fineLonTicks, latTicks: fineLatTicks, base: '#ffff00',
  patches: windPatches, labels: windLabels, arrows: [windArrowLons, windArrowLats, windArrowAngles], arrowLength: 11,
  barRect: [685, 341, 9, 154], levels: windLevels, colors: jet7, barName: 'Wind Speed, kts', barDigits: 1
});
addMap({
  rect: [835, 342, 175, 153], lon: [-89.28, -86.86], lat: [27.58, 29.91], lonTicks: [-89, -88.5, -88, -87.5, -87], lonFormat: v => String(Math.abs(v)), latTicks: [28, 28.5, 29, 29.5], base: '#0055ff',
  patches: currentPatches, labels: currentLabels, lines: currentCoast, arrows: [currentArrowLons, currentArrowLats, currentArrowAngles], arrowLength: 11,
  barRect: [1014, 341, 9, 154], levels: currentLevels, colors: jet9, barName: 'Current Speed, kts', barDigits: 2
});
addMap({
  rect: [180, 604, 167, 154], lon: [-90, -86], lat: [26.76, 30.77], lonTicks: wideLonTicks, latTicks: wideLatTicks, base: '#0000ff', smooth: 0.2,
  patches: pressurePatches, labels: pressureLabels, lines: coastLines,
  barRect: [359, 603, 9, 155], levels: pressureLevels, colors: jet8, barName: 'Surface Pressure, mb', barDigits: 1
});
addMap({
  rect: [508, 604, 167, 154], lon: [-90, -86], lat: [26.76, 30.77], lonTicks: wideLonTicks, latTicks: wideLatTicks, base: '#00ffff', smooth: 0.2,
  patches: temperaturePatches, labels: temperatureLabels, lines: coastLines.concat(temperatureLines),
  barRect: [688, 603, 9, 155], levels: temperatureLevels, colors: jet7, barName: 'Air Temperature, C', barDigits: 1
});

// frames, titles and the loose text
const frames = [[153, 65, 247, 189], [479, 65, 250, 189], [806, 65, 250, 189], [153, 327, 247, 189], [479, 327, 250, 189], [806, 327, 250, 189], [153, 589, 247, 190], [479, 589, 250, 190]];
const graphics = frames.map(f => ({ type: 'rect', z: 0, silent: true, shape: { x: f[0], y: f[1], width: f[2], height: f[3] }, style: { fill: 'none', stroke: '#000', lineWidth: 1 } }));
mapBorders.forEach(r => graphics.push({ type: 'rect', z: 10, silent: true, shape: { x: r[0], y: r[1], width: r[2], height: r[3] }, style: { fill: 'none', stroke: '#000', lineWidth: 0.8 } }));

function addText(x, y, text, font, opts) {
  graphics.push(Object.assign({ type: 'text', z: 20, silent: true, x, y, style: Object.assign({ text, font: font + 'px ' + FONT, fill: '#111', align: 'center', verticalAlign: 'middle' }, opts && opts.style) }, opts && opts.el));
}
const up = { el: { rotation: Math.PI / 2 } };

addText(606, 65, 'Forecast for Kosmos Energy MC215 GT from 09-Dec-2022 15:00:00 to 23-Dec', 6.4);
addText(931, 65, 'Data for Kosmos Energy MC215 GT from 09-Dec-2022 18:00:00 to 16-Dec-2022', 6.3);
addText(489, 110, 'Wind Speed, kts', 8, up);
addText(489, 206, 'Wave Height, ft', 8, up);
addText(485, 252, 'Wave Dir', 3.6);
addText(937, 176, 'Sun 11-Dec-2022', 4.6);
addText(810, 87, 'Surface Pressure, mb', 3.8, up);
addText(810, 124, 'Air Temperature, C', 3.8, up);
addText(810, 160, 'Relative Humidity, %', 3.8, up);
addText(810, 196, 'Cloud Cover, %', 3.8, up);
addText(263, 337, 'Valid for 10-Dec-2022 00:00 GMT', 4.6);
addText(591, 337, 'Valid for 10-Dec-2022 00:00 GMT', 4.6);
addText(924, 337, 'Valid for 10-Dec-2022 00:00 GMT', 4.6);
addText(263, 600, 'Valid for 20221209', 4.8);
addText(591, 600, 'Valid for 09-Dec-2022', 4.8);

graphics.push({ type: 'line', z: 1, silent: true, shape: { x1: 184, y1: 79, x2: 184, y2: 233 }, style: { stroke: '#000', lineWidth: 1 } });
graphics.push({ type: 'line', z: 1, silent: true, shape: { x1: 184, y1: 233, x2: 377, y2: 233 }, style: { stroke: '#eee', lineWidth: 1 } });
let summaryY = 81;
summaryLines.forEach(line => {
  if (line === '') { summaryY += 2.4; return; }
  addText(189, summaryY, line, 3.1, { style: { align: 'left', fill: '#333' } });
  summaryY += 3.15;
});

const chart = echarts.init(document.getElementById('chart'));
chart.setOption({
  animation: false,
  backgroundColor: '#fff',
  textStyle: { fontFamily: FONT },
  grid: grids, xAxis: xAxes, yAxis: yAxes, series, graphic: graphics
});
</script>
</body>
</html>
